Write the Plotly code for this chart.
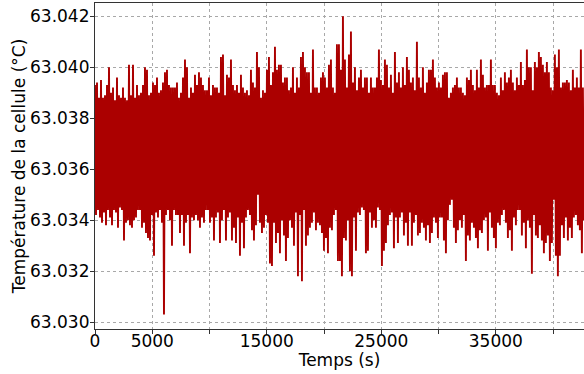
import plotly.graph_objects as go

# releve de temperature de la cellule, lu sur le graphe
# valeurs en 1e-4 degC au-dessus de 63.030, une colonne = un pas de temps
base_c = 63.030
pas_s = 174.6

haut = [
    93, 94, 88, 95, 88, 89, 93, 100, 90, 92, 87, 96, 89, 88, 92, 88, 87, 101, 89, 101,
    88, 93, 89, 90, 93, 100, 99, 89, 90, 94, 93, 96, 90, 91, 94, 98, 99, 93, 92, 92,
    92, 94, 88, 90, 96, 103, 100, 88, 92, 90, 97, 93, 98, 96, 93, 91, 91, 96, 89, 93,
    92,
    92, 90, 104, 105, 89, 97, 96, 103, 93, 91, 93, 90, 97, 92, 90, 91, 89, 99, 94, 92,
    106, 100, 88, 91, 90, 99, 104, 93, 98, 108, 99, 101, 101, 94, 96, 96, 91, 92, 100, 90,
    96, 92, 104, 106, 100, 98, 98, 90, 107, 92, 92, 90, 96, 98, 96, 92, 101, 103, 92, 90,
    109,
    109, 99, 120, 103, 92, 105, 114, 94, 100, 91, 96, 99, 92, 96, 96, 90, 96, 92, 92, 96,
    107, 95, 93, 103, 101, 92, 97, 90, 106, 94, 98, 92, 100, 93, 104, 99, 94, 96, 91, 110,
    96, 92, 100, 90, 94, 99, 99, 103, 96, 92, 94, 92, 97, 98, 98, 88, 90, 92, 93, 96,
    92,
    92, 90, 89, 96, 95, 99, 93, 91, 99, 92, 103, 97, 92, 93, 93, 103, 93, 93, 90, 89,
    96, 91, 98, 94, 96, 99, 94, 91, 96, 93, 102, 93, 95, 107, 100, 100, 91, 102, 100, 106,
    104, 101, 98, 102, 98, 92, 91, 105, 100, 107, 92, 94, 94, 95, 94, 91, 99, 92, 96, 92,
    107, 92,
]

bas = [
    42, 44, 41, 39, 43, 38, 44, 41, 38, 44, 43, 37, 45, 44, 32, 39, 40, 38, 37, 40,
    41, 44, 44, 37, 39, 35, 33, 32, 42, 26, 43, 41, 44, 39, 3, 42, 44, 40, 30, 44,
    42, 42, 35, 42, 30, 39, 42, 27, 41, 40, 42, 40, 37, 41, 39, 44, 44, 39, 41, 32,
    41,
    43, 31, 40, 44, 32, 41, 43, 32, 37, 31, 41, 26, 39, 29, 41, 44, 42, 36, 32, 38,
    50, 39, 35, 37, 42, 39, 23, 22, 39, 31, 35, 27, 40, 34, 24, 33, 40, 37, 30, 43,
    18, 42, 16, 44, 30, 34, 37, 39, 43, 36, 39, 38, 35, 28, 33, 27, 37, 36, 42, 44,
    24,
    24, 18, 33, 32, 40, 20, 18, 41, 28, 43, 42, 45, 44, 27, 28, 43, 37, 40, 37, 45,
    44, 22, 28, 31, 38, 42, 43, 29, 41, 31, 41, 43, 34, 39, 30, 43, 30, 39, 42, 34,
    35, 39, 37, 32, 38, 31, 35, 41, 39, 33, 41, 41, 32, 27, 40, 46, 48, 37, 31, 36,
    40,
    37, 42, 24, 34, 32, 39, 37, 33, 29, 36, 35, 40, 41, 28, 43, 37, 33, 29, 39, 38,
    42, 44, 39, 33, 36, 28, 41, 38, 44, 44, 34, 39, 29, 40, 37, 19, 42, 34, 33, 38,
    32, 27, 31, 34, 24, 31, 48, 26, 18, 26, 38, 33, 41, 32, 37, 33, 41, 42, 38, 36,
    27, 40,
]

x_ticks = [0, 5000, 10000, 15000, 20000, 25000, 30000, 35000, 40000]
x_labels = ['0', '5000', '', '15000', '', '25000', '', '35000', '']
y_ticks = [63.030, 63.032, 63.034, 63.036, 63.038, 63.040, 63.042]

t = []
temp = []
for i in range(min(len(haut), len(bas))):
    t.append(i * pas_s)
    temp.append(base_c + haut[i] * 1e-4)
    t.append(i * pas_s + pas_s / 2)
    temp.append(base_c + bas[i] * 1e-4)

fig = go.Figure(go.Scatter(
    x=t, y=temp, mode='lines',
    line=dict(color='#ab0000', width=1.9),
    showlegend=False,
))

axe = dict(
    showline=True, linecolor='#333333', linewidth=1.2, mirror=True,
    ticks='outside', ticklen=4, tickcolor='#333333',
    showgrid=True, gridcolor='#a8a8a8', griddash='dot', gridwidth=1,
    zeroline=False, automargin=False,
    tickfont=dict(size=17, color='black'),
)

fig.update_layout(
    width=584, height=374,
    margin=dict(l=95, r=0, t=3, b=45),
    paper_bgcolor='white', plot_bgcolor='white',
    font=dict(family='DejaVu Sans', color='black'),
    xaxis=dict(
        axe, range=[0, 42700], tickvals=x_ticks, ticktext=x_labels,
        ticklabelstandoff=-8,
        title=dict(text='Temps (s)', font=dict(size=17), standoff=2),
    ),
    yaxis=dict(
        axe, range=[63.02973, 63.04252], tickvals=y_ticks, tickformat='.3f',
        ticklabelstandoff=-3,
        title=dict(text='Température de la cellule (°C)', font=dict(size=17), standoff=0),
    ),
)

# la page a une marge par defaut de 8px, on la retire
fig.write_html('out.html', config={'displayModeBar': False},
               post_script="document.body.style.margin='0';")
